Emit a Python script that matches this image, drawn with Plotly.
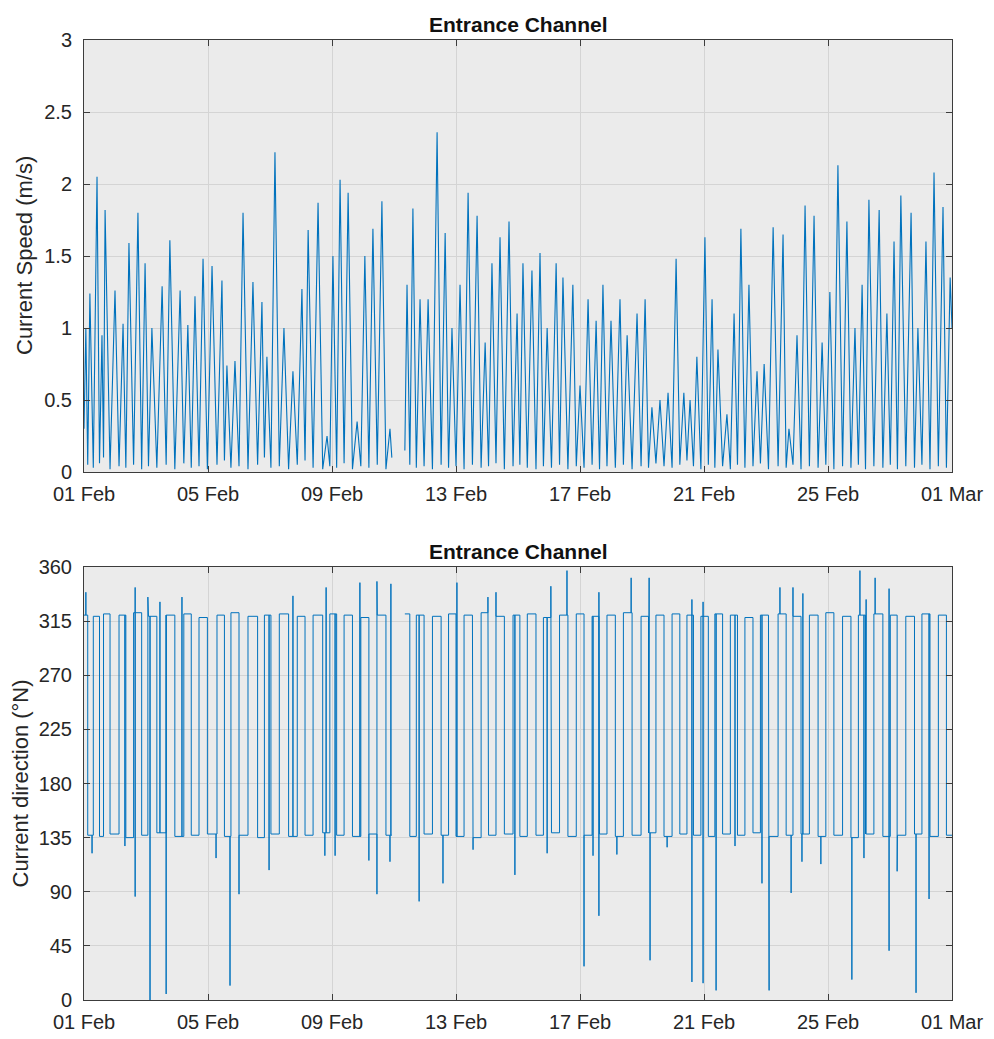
import pandas as pd
import plotly.graph_objects as go

# ---------------- data (days after 01 Feb) ----------------
start = pd.Timestamp("2021-02-01")

peak_day = [0.06, 0.19, 0.42, 0.58, 0.68, 1.00, 1.26, 1.45, 1.74, 1.97, 2.19, 2.52, 2.77, 3.10, 3.35, 3.58,
            3.84, 4.13, 4.45, 4.61, 4.87, 5.13, 5.45, 5.74, 5.90, 6.16, 6.45, 6.74, 7.03, 7.23, 7.55, 7.84,
            8.03, 8.26, 8.52, 8.81, 9.06, 9.32, 9.61, 9.87, 10.42, 10.61, 10.84, 11.10, 11.39, 11.65, 11.87,
            12.13, 12.39, 12.68, 12.94, 13.16, 13.42, 13.71, 13.97, 14.16, 14.45, 14.71, 14.94, 15.23, 15.45,
            15.77, 16.00, 16.26, 16.52, 16.74, 17.00, 17.29, 17.52, 17.84, 18.10, 18.32, 18.58, 18.84, 19.10,
            19.35, 19.55, 19.77, 20.03, 20.26, 20.45, 20.74, 20.97, 21.19, 21.45, 21.71, 21.94, 22.23, 22.55,
            22.74, 23.00, 23.26, 23.55, 23.81, 24.06, 24.32, 24.61, 24.87, 25.10, 25.32, 25.65, 25.90, 26.13,
            26.35, 26.68, 26.90, 27.16, 27.42, 27.71, 27.94]
peak_speed = [1.00, 1.24, 2.05, 0.95, 1.82, 1.26, 1.03, 1.59, 1.80, 1.45, 1.00, 1.29, 1.61, 1.26, 1.02, 1.22,
              1.48, 1.43, 1.33, 0.74, 0.77, 1.80, 1.32, 1.18, 0.80, 2.22, 1.00, 0.70, 1.27, 1.68, 1.87, 0.25,
              1.50, 2.03, 1.94, 0.35, 1.50, 1.69, 1.88, 0.30, 1.30, 1.83, 1.20, 1.20, 2.36, 1.66, 1.00,
              1.30, 1.94, 1.78, 0.90, 1.45, 1.63, 1.74, 1.10, 1.45, 1.40, 1.52, 1.00, 1.45, 1.35,
              1.30, 0.60, 1.20, 1.05, 1.30, 1.05, 1.20, 0.95, 1.10, 1.20, 0.45, 0.50, 0.55, 1.48,
              0.55, 0.50, 0.80, 1.63, 1.20, 0.85, 0.40, 1.10, 1.69, 1.30, 0.70, 0.75, 1.70, 1.65,
              0.30, 0.95, 1.85, 1.78, 0.90, 1.25, 2.13, 1.74, 1.00, 1.30, 1.89, 1.82, 1.10, 1.60,
              1.92, 1.80, 1.00, 1.60, 2.08, 1.84, 1.35]
peak_dir = [320, 137, 319, 136, 321, 138, 320, 135, 322, 137, 319, 139, 320, 136, 321, 137,
            318, 138, 320, 136, 322, 137, 319, 135, 320, 138, 321, 136, 319, 137, 320, 139,
            321, 137, 320, 136, 318, 138, 320, 137, 321, 136, 320, 138, 319, 137, 321,
            136, 320, 135, 322, 137, 319, 138, 320, 136, 321, 137, 318, 139, 320,
            136, 321, 137, 319, 138, 320, 136, 322, 137, 319, 139, 320, 136, 321,
            138, 320, 137, 319, 136, 321, 138, 320, 137, 318, 139, 320, 136, 321,
            137, 319, 138, 320, 136, 322, 137, 319, 135, 320, 138, 321, 136, 320,
            137, 319, 138, 321, 136, 320, 137]

trough_day = [0.00, 0.12, 0.30, 0.50, 0.63, 0.84, 1.13, 1.35, 1.60, 1.86, 2.08, 2.35, 2.65, 2.93, 3.22, 3.46,
              3.71, 3.98, 4.29, 4.53, 4.74, 5.00, 5.29, 5.60, 5.82, 6.03, 6.30, 6.60, 6.88, 7.13, 7.39, 7.70,
              7.93, 8.15, 8.39, 8.66, 8.93, 9.19, 9.46, 9.74, 9.93, 10.35, 10.51, 10.72, 10.97, 11.24, 11.52,
              11.76, 12.00, 12.26, 12.53, 12.81, 13.05, 13.29, 13.56, 13.84, 14.06, 14.30, 14.58, 14.82, 15.08,
              15.34, 15.61, 15.88, 16.13, 16.39, 16.63, 16.87, 17.14, 17.40, 17.68, 17.97, 18.21, 18.45, 18.71,
              18.97, 19.22, 19.45, 19.66, 19.90, 20.14, 20.35, 20.60, 20.85, 21.08, 21.32, 21.58, 21.82, 22.08,
              22.39, 22.65, 22.87, 23.13, 23.40, 23.68, 23.93, 24.19, 24.47, 24.74, 24.98, 25.21, 25.48, 25.77,
              26.01, 26.24, 26.51, 26.79, 27.03, 27.29, 27.56, 27.82, 28.00]
trough_speed = [0.30, 0.05, 0.03, 0.06, 0.10, 0.02, 0.04, 0.03, 0.05, 0.02, 0.04, 0.03, 0.05, 0.02, 0.06, 0.03,
                0.04, 0.02, 0.05, 0.08, 0.03, 0.04, 0.02, 0.05, 0.10, 0.03, 0.04, 0.02, 0.05, 0.08, 0.03, 0.02,
                0.04, 0.03, 0.06, 0.02, 0.04, 0.03, 0.05, 0.02, 0.10, 0.15, 0.05, 0.03, 0.04, 0.02, 0.05,
                0.03, 0.04, 0.02, 0.05, 0.03, 0.04, 0.06, 0.02, 0.04, 0.05, 0.03, 0.02, 0.04, 0.03,
                0.05, 0.02, 0.04, 0.03, 0.05, 0.02, 0.04, 0.03, 0.05, 0.02, 0.04, 0.03, 0.06, 0.04,
                0.03, 0.05, 0.08, 0.04, 0.02, 0.05, 0.03, 0.04, 0.02, 0.05, 0.03, 0.04, 0.06, 0.02,
                0.04, 0.03, 0.05, 0.02, 0.04, 0.03, 0.05, 0.02, 0.04, 0.03, 0.05, 0.02, 0.04, 0.03,
                0.05, 0.02, 0.04, 0.03, 0.05, 0.02, 0.04, 0.03, 1.00]

gap_days = [9.95, 10.33]  # missing record

spike_day = [0.06, 1.65, 2.06, 2.45, 3.16, 6.74, 7.81, 8.90, 9.45, 9.90, 12.03, 13.03, 13.29, 15.06, 15.58,
             16.61, 17.65, 18.23, 19.61, 19.97, 22.45, 22.87, 23.19, 25.03, 25.23, 25.52, 25.97,
             0.26, 1.32, 1.65, 2.13, 2.65, 4.26, 4.71, 5.00, 5.97, 7.77, 8.10, 9.19, 9.45, 9.87, 10.81,
             11.58, 12.55, 13.90, 14.94, 16.13, 16.42, 16.61, 17.19, 18.26, 18.81, 19.61, 19.97, 20.39,
             21.00, 21.87, 22.10, 22.81, 23.16, 23.77, 24.77, 25.16, 25.97, 26.23, 26.84, 27.26]
spike_dir = [339, 343, 335, 331, 335, 336, 343, 347, 348, 346, 347, 335, 339, 344, 357,
             339, 351, 351, 333, 331, 343, 343, 338, 357, 333, 351, 342,
             122, 128, 86, 0, 5, 118, 12, 88, 108, 120, 120, 116, 88, 115, 82,
             97, 125, 104, 122, 28, 120, 70, 121, 33, 127, 15, 14, 8,
             128, 97, 8, 89, 115, 113, 17, 118, 41, 107, 6, 84]

speed_ticks = [0, 0.5, 1, 1.5, 2, 2.5, 3]
speed_ticktext = ["0", "0.5", "1", "1.5", "2", "2.5", "3"]
dir_ticks = [0, 45, 90, 135, 180, 225, 270, 315, 360]


def to_dt(d):
    return start + pd.Timedelta(days=d)


# ---------------- build speed series ----------------
pts = sorted(list(zip(peak_day, peak_speed)) + list(zip(trough_day, trough_speed)))
sx, sy = [], []
prev = None
for d, v in pts:
    if prev is not None and prev < gap_days[0] and d > gap_days[1]:
        sx.append(None)
        sy.append(None)
    sx.append(to_dt(d))
    sy.append(v)
    prev = d

# ---------------- build direction series ----------------
seg_bounds = []
for pdays in peak_day:
    before = max(t for t in trough_day if t < pdays)
    after = min(t for t in trough_day if t > pdays)
    seg_bounds.append((before, after))

dx, dy = [], []
for k, (a, b) in enumerate(seg_bounds):
    if k > 0 and seg_bounds[k - 1][1] < gap_days[0] and a > gap_days[1]:
        dx.append(None)
        dy.append(None)
    lev = peak_dir[k]
    dx.append(to_dt(a))
    dy.append(lev)
    inside = sorted((sd, sv) for sd, sv in zip(spike_day, spike_dir) if a <= sd < b)
    for sd, sv in inside:
        dx += [to_dt(sd), to_dt(sd), to_dt(sd)]
        dy += [lev, sv, lev]
    dx.append(to_dt(b))
    dy.append(lev)

# ---------------- figure ----------------
LINE = "#0072BD"
fig = go.Figure()
fig.add_trace(go.Scatter(x=sx, y=sy, mode="lines", line=dict(color=LINE, width=1.1),
                         xaxis="x", yaxis="y", showlegend=False, connectgaps=False))
fig.add_trace(go.Scatter(x=dx, y=dy, mode="lines", line=dict(color=LINE, width=1),
                         xaxis="x2", yaxis="y2", showlegend=False, connectgaps=False))

FONT = "Liberation Sans, Arial, Helvetica"
AX = "#3c3c3c"
TICKFONT = dict(family=FONT, size=20, color="#262626")
common_x = dict(type="date", range=[start, to_dt(28)], tick0=start, dtick=4 * 86400000,
                tickformat="%d %b", ticks="inside", ticklen=6, tickcolor=AX,
                showline=True, linecolor=AX, linewidth=1, mirror="ticks",
                showgrid=True, gridcolor="#d4d4d4", gridwidth=1, zeroline=False,
                tickfont=TICKFONT, ticklabelstandoff=4, fixedrange=True, automargin=False)
common_y = dict(ticks="inside", ticklen=6, tickcolor=AX, showline=True, linecolor=AX, linewidth=1,
                mirror="ticks", showgrid=True, gridcolor="#d4d4d4", gridwidth=1, zeroline=False,
                tickfont=TICKFONT, ticklabelstandoff=7, fixedrange=True, automargin=False)

H = 1039 - 40 - 39


def py(px):
    return 1 - (px - 40) / H


fig.update_layout(
    width=994, height=1039,
    margin=dict(l=84, r=42, t=40, b=39),
    paper_bgcolor="white", plot_bgcolor="#ebebeb",
    xaxis=dict(common_x, domain=[0, 1], anchor="y"),
    yaxis=dict(common_y, domain=[py(472), 1.0], range=[0, 3], tickvals=speed_ticks,
               ticktext=speed_ticktext, anchor="x"),
    xaxis2=dict(common_x, domain=[0, 1], anchor="y2"),
    yaxis2=dict(common_y, domain=[0.0, py(567)], range=[0, 360], tickvals=dir_ticks, anchor="x2"),
    annotations=[
        dict(text="<b>Entrance Channel</b>", x=0.5, y=py(24), xref="paper", yref="paper", showarrow=False,
             xanchor="center", yanchor="middle", font=dict(family=FONT, size=21, color="#111111")),
        dict(text="<b>Entrance Channel</b>", x=0.5, y=py(551), xref="paper", yref="paper", showarrow=False,
             xanchor="center", yanchor="middle", font=dict(family=FONT, size=21, color="#111111")),
        dict(text="Current Speed (m/s)", x=(25 - 84) / 868, y=(py(40) + py(472)) / 2, xref="paper",
             yref="paper", showarrow=False, xanchor="center", yanchor="middle",
             textangle=-90, font=dict(family=FONT, size=22, color="#262626")),
        dict(text="Current direction (°N)", x=(20 - 84) / 868, y=(py(567) + py(1000)) / 2, xref="paper",
             yref="paper", showarrow=False, xanchor="center", yanchor="middle",
             textangle=-90, font=dict(family=FONT, size=22, color="#262626")),
    ],
)

fig.write_html("out.html")
